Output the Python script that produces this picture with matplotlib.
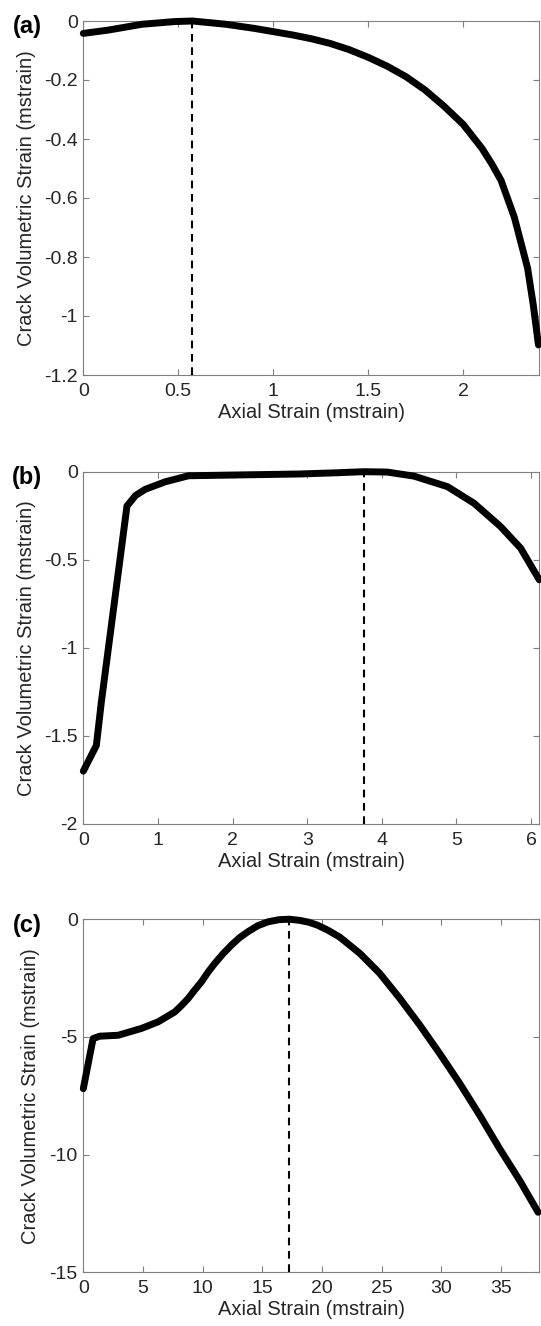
import matplotlib
matplotlib.use("Agg")
import matplotlib.pyplot as plt

plt.rcParams["font.family"] = ["Liberation Sans", "DejaVu Sans"]
plt.rcParams["axes.unicode_minus"] = False

# ---- data: axial strain vs crack volumetric strain (mstrain) ----
a_axial = [0, 0.13, 0.31, 0.48, 0.575, 0.75, 0.9, 1.0, 1.1, 1.2, 1.3, 1.4,
           1.5, 1.6, 1.7, 1.8, 1.9, 2.0, 2.1, 2.15, 2.2, 2.27, 2.34, 2.37, 2.397]
a_crack = [-0.042, -0.031, -0.011, -0.002, 0.0, -0.011, -0.025, -0.036,
           -0.047, -0.06, -0.076, -0.097, -0.123, -0.153, -0.189, -0.234,
           -0.289, -0.35, -0.432, -0.483, -0.54, -0.665, -0.838, -0.963, -1.098]
a_peak = 0.575

b_axial = [0, 0.175, 0.24, 0.585, 0.7, 0.83, 1.1, 1.41, 2.0, 2.9, 3.4, 3.76,
           4.07, 4.43, 4.88, 5.235, 5.59, 5.86, 6.11]
b_crack = [-1.70, -1.554, -1.314, -0.195, -0.135, -0.100, -0.057, -0.023,
           -0.019, -0.013, -0.006, 0.0, -0.002, -0.025, -0.085, -0.179,
           -0.311, -0.434, -0.614]
b_peak = 3.76

c_axial = [0, 0.82, 1.38, 2.92, 4.87, 6.27, 7.66, 8.2, 8.78, 9.3, 9.90, 10.45,
           11.01, 11.7, 12.41, 13.1, 13.80, 14.6, 15.48, 16.4, 17.25, 18.13,
           18.9, 19.6, 20.5, 21.48, 23.16, 24.83, 26.51, 28.19, 29.86, 31.54,
           33.21, 34.88, 36.56, 38.1]
c_crack = [-7.2, -5.07, -4.97, -4.93, -4.64, -4.36, -3.94, -3.68, -3.37, -3.03,
           -2.66, -2.25, -1.88, -1.47, -1.10, -0.78, -0.53, -0.28, -0.11, -0.02,
           0.0, -0.05, -0.13, -0.25, -0.47, -0.76, -1.45, -2.30, -3.36, -4.50,
           -5.71, -6.98, -8.33, -9.75, -11.10, -12.45]
c_peak = 17.25

a_xticks = [0, 0.5, 1, 1.5, 2]
a_xlabels = ["0", "0.5", "1", "1.5", "2"]
a_yticks = [0, -0.2, -0.4, -0.6, -0.8, -1, -1.2]
a_ylabels = ["0", "-0.2", "-0.4", "-0.6", "-0.8", "-1", "-1.2"]

b_xticks = [0, 1, 2, 3, 4, 5, 6]
b_xlabels = ["0", "1", "2", "3", "4", "5", "6"]
b_yticks = [0, -0.5, -1, -1.5, -2]
b_ylabels = ["0", "-0.5", "-1", "-1.5", "-2"]

c_xticks = [0, 5, 10, 15, 20, 25, 30, 35]
c_xlabels = ["0", "5", "10", "15", "20", "25", "30", "35"]
c_yticks = [0, -5, -10, -15]
c_ylabels = ["0", "-5", "-10", "-15"]

panel_tags = ["(a)", "(b)", "(c)"]
x_title = "Axial Strain (mstrain)"
y_title = "Crack Volumetric Strain (mstrain)"

W, H = 541, 1326
fig = plt.figure(figsize=(W / 100, H / 100), dpi=100)

# axes boxes in pixels: (left, right, top, bottom)
boxes = [(83.3, 539.0, 21.0, 375.0),
         (83.3, 539.3, 471.7, 824.0),
         (83.3, 539.3, 919.2, 1272.3)]
ylabel_x = [-0.104, -0.104, -0.096]

panels = [
    (a_axial, a_crack, a_peak, (0, 2.4), (-1.2, 0), a_xticks, a_xlabels, a_yticks, a_ylabels),
    (b_axial, b_crack, b_peak, (0, 6.11), (-2, 0), b_xticks, b_xlabels, b_yticks, b_ylabels),
    (c_axial, c_crack, c_peak, (0, 38.2), (-15, 0), c_xticks, c_xlabels, c_yticks, c_ylabels),
]

spine_col = "#808080"
text_col = "#262626"

for i, (xs, ys, peak, xl, yl, xt, xtl, yt, ytl) in enumerate(panels):
    l, r, t, b = boxes[i]
    ax = fig.add_axes([l / W, 1 - b / H, (r - l) / W, (b - t) / H])
    ax.plot(xs, ys, color="black", lw=5, solid_capstyle="round",
            solid_joinstyle="round", clip_on=False, zorder=3)
    ax.axvline(peak, color="black", lw=1.5, ls=(0, (3.7, 2.7)), zorder=2)
    ax.set_xlim(*xl)
    ax.set_ylim(*yl)
    ax.set_xticks(xt)
    ax.set_xticklabels(xtl)
    ax.set_yticks(yt)
    ax.set_yticklabels(ytl)
    for s in ax.spines.values():
        s.set_color(spine_col)
        s.set_linewidth(0.8)
    ax.tick_params(axis="both", direction="in", length=4, width=0.8,
                   color=spine_col, labelcolor=text_col, labelsize=14,
                   top=True, right=True)
    ax.tick_params(axis="x", pad=5.5)
    ax.tick_params(axis="y", pad=4.0)
    ax.set_xlabel(x_title, fontsize=14.5, color=text_col, labelpad=2.5)
    ax.set_ylabel(y_title, fontsize=14.5, color=text_col)
    ax.yaxis.set_label_coords(ylabel_x[i], 0.5)
    fig.text(27 / W, 1 - (t + 6) / H, panel_tags[i], fontsize=17,
             fontweight="bold", ha="center", va="center", color="black")

fig.savefig("out.png", dpi=100, facecolor="white")
